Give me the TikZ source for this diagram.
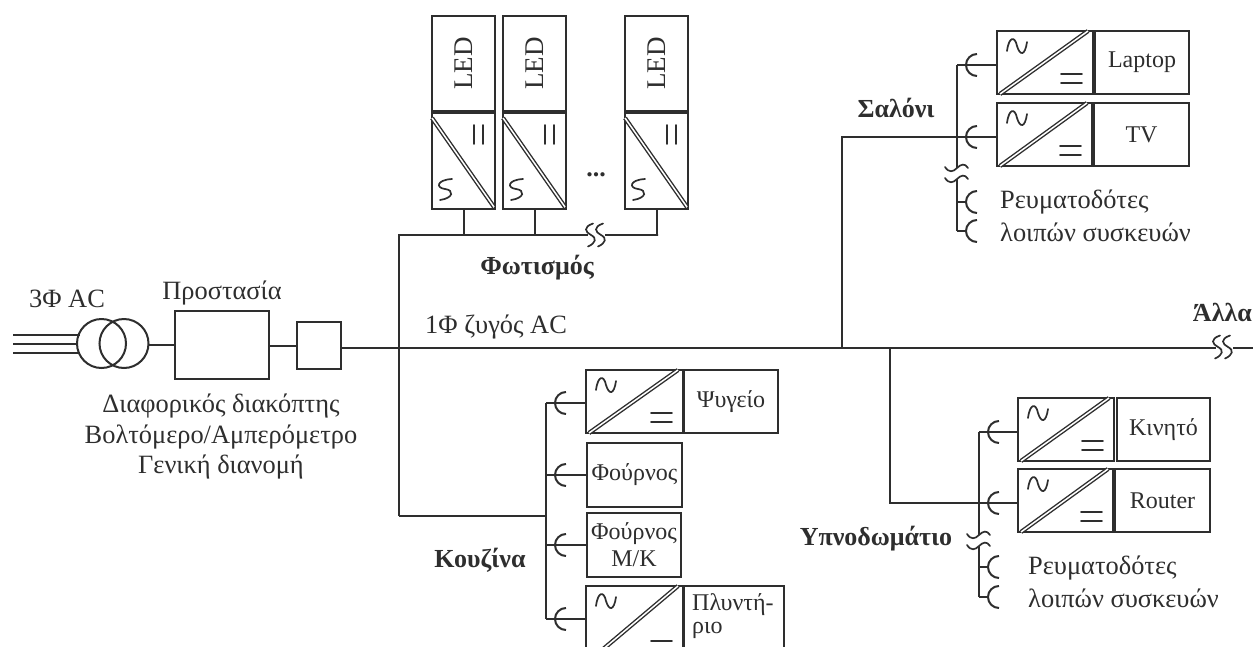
\documentclass[tikz,border=0pt]{standalone}
\usepackage{fontspec}
\setmainfont{Liberation Serif}
\usetikzlibrary{calc}
\definecolor{ink}{HTML}{2E2E2E}
\tikzset{
  x=1pt,y=-1pt,
  wire/.style={draw=ink,line width=2pt},
  box/.style={draw=ink,line width=2pt,rectangle,inner sep=0pt,outer sep=0pt,fill=white,text=ink,align=center,font=\fontsize{24}{27}\selectfont},
  diag/.style={draw=ink,line width=1.4pt,double=white,double distance=1.5pt},
  sym/.style={draw=ink,line width=1.7pt,line cap=round},
  lbl/.style={inner sep=0pt,text=ink,font=\fontsize{26.4}{30}\selectfont},
  blbl/.style={inner sep=0pt,text=ink,font=\fontsize{26}{30}\selectfont\bfseries},
  plain/.style={inner sep=0pt,text=ink,font=\fontsize{24}{27}\selectfont},
}
% horizontal converter: name, x1, y1, x2, y2
\newcommand{\hconv}[5]{%
  \node[box,anchor=north west,minimum width=#4-#2,minimum height=#5-#3] (#1) at (#2,#3) {};
  \draw[diag] ($(#1.south west)+(3,0)$) -- ($(#1.north east)+(-5,0)$);
  \begin{scope}[shift={(#1.north west)}]
    \draw[sym] (10,20) .. controls (12,5) and (18,5) .. (20,15) .. controls (23,25) and (28,25) .. (30,11);
  \end{scope}
  \begin{scope}[shift={(#1.south east)}]
    \draw[sym] (-32,-20) -- (-11,-20) (-32,-11) -- (-11,-11);
  \end{scope}
}
% vertical converter
\newcommand{\vconv}[5]{%
  \node[box,anchor=north west,minimum width=#4-#2,minimum height=#5-#3] (#1) at (#2,#3) {};
  \draw[diag] ($(#1.north west)+(0,5)$) -- ($(#1.south east)+(-1,-2)$);
  \begin{scope}[shift={(#1.south west)}]
    \draw[sym] (20,-30) .. controls (4,-29) and (4,-21) .. (13,-20) .. controls (22,-19) and (22,-11) .. (8,-9);
  \end{scope}
  \begin{scope}[shift={(#1.north east)}]
    \draw[sym] (-21,12) -- (-21,31) (-12,12) -- (-12,31);
  \end{scope}
}
\newcommand{\socket}[1]{\draw[wire] ($(#1)+(10,-11)$) arc[start angle=270,end angle=90,radius=11];}
\newcommand{\breakH}[2]{% two vertical S curves
  \begin{scope}[shift={(#1,#2)}]
    \foreach \d in {0,10}{
      \draw[sym] (\d+2,-11.5) .. controls (\d-8,-8) and (\d-6,-3) .. (\d,0) .. controls (\d+6,3) and (\d+5,8) .. (\d-3,11.5);
    }
  \end{scope}
}
\newcommand{\breakV}[2]{% two horizontal S curves
  \begin{scope}[shift={(#1,#2)}]
    \foreach \d in {0,11}{
      \draw[sym] (-12,\d-1) .. controls (-8,\d+5) and (-4,\d+4) .. (0,\d) .. controls (4,\d-4) and (8,\d-5) .. (11,\d);
    }
  \end{scope}
}
\begin{document}
\begin{tikzpicture}
\useasboundingbox (0,0) rectangle (1254,646);
% ---- source
\coordinate (p1s) at (13,335); \coordinate (p1e) at (80,335);
\coordinate (p2s) at (13,344); \coordinate (p2e) at (78,344);
\coordinate (p3s) at (13,353); \coordinate (p3e) at (80,353);
\draw[wire] (p1s)--(p1e) (p2s)--(p2e) (p3s)--(p3e);
\node[circle,draw=ink,line width=2pt,minimum size=49pt,inner sep=0pt] (t1) at (101.5,343.5) {};
\node[circle,draw=ink,line width=2pt,minimum size=49pt,inner sep=0pt] (t2) at (124,343.5) {};
\node[box,anchor=north west,minimum width=94pt,minimum height=68pt] (prot) at (175,311) {};
\node[box,anchor=north west,minimum width=44pt,minimum height=47pt] (sw) at (297,322) {};
\coordinate (ta) at (149,345);
\coordinate (pa) at (269,346);
\draw[wire] (ta) -- (prot.west|-ta);
\draw[wire] (pa) -- (sw.west|-pa);
% ---- bus
\coordinate (busL) at (341,348);
\coordinate (busA) at (399,348);
\coordinate (busB) at (842,348);
\coordinate (busC) at (890,348);
\coordinate (busR1) at (1216,348);
\coordinate (busR2) at (1233,348);
\coordinate (busEnd) at (1253,348);
\draw[wire] (busL) -- (busR1) (busR2) -- (busEnd);
\breakH{1218}{347}
% ---- lighting
\coordinate (lL) at (399,235);
\coordinate (lB1) at (588,235);
\coordinate (lB2) at (605,235);
\coordinate (lE) at (658,235);
\coordinate (kJ) at (399,516);
\foreach \n/\a/\b in {a/432/495,b/503/566,c/625/688}{
  \node[box,anchor=north west,minimum width=\b pt-\a pt,minimum height=95pt] (led\n) at (\a,16) {\rotatebox{90}{\fontsize{27}{30}\selectfont LED}};
  \vconv{cv\n}{\a}{113}{\b}{209}
}
\draw[wire] (kJ) -- (lL) -- (lB1);
\draw[wire] (lB2) -- (lE) -- (cvc.south|-lE) -- (cvc.south);
\draw[wire] (cva.south) -- (cva.south|-lL);
\draw[wire] (cvb.south) -- (cvb.south|-lL);
\breakH{591}{235}
\node[inner sep=0pt,text=ink,font=\fontsize{26}{30}\selectfont\bfseries] (dots) at (596,175) {...};
\node[blbl] (fot) at (537,268) {Φωτισμός};
% ---- saloni
\coordinate (sT) at (957,65); \coordinate (sM) at (957,137); \coordinate (sB1) at (957,168);
\coordinate (sB2) at (957,179); \coordinate (sR1) at (957,202); \coordinate (sR2) at (957,231);
\coordinate (sJ) at (842,137);
\draw[wire] (busB) -- (sJ) -- (sM);
\draw[wire] (sT) -- (sB1) (sB2) -- (sR2);
\breakV{957}{168}
\coordinate (sk1) at (967,65); \coordinate (sk2) at (967,137); \coordinate (sk3) at (967,202); \coordinate (sk4) at (967,231);
\draw[wire] (sR1) -- (sk3) (sR2) -- (sk4) (sM) -- (sk2) (sT) -- (sk1);
\hconv{cl}{997}{31}{1093}{94}
\hconv{ct}{997}{103}{1092}{166}
\node[box,anchor=north west,minimum width=94pt,minimum height=63pt] (lap) at (1095,31) {Laptop};
\node[box,anchor=north west,minimum width=95pt,minimum height=63pt] (tv) at (1094,103) {TV};
\draw[wire] (sk1) -- (cl.west|-sk1) (sk2) -- (ct.west|-sk2);
\foreach \s in {sk1,sk2,sk3,sk4}{\socket{\s}}
\node[lbl,anchor=west] (r1) at (1000,202) {Ρευματοδότες};
\node[lbl,anchor=west] (r2) at (1000,232) {λοιπών συσκευών};
\node[blbl] (sal) at (896,108) {Σαλόνι};
% ---- kitchen
\coordinate (kT) at (546,403); \coordinate (kM) at (546,516); \coordinate (kB) at (546,619);
\draw[wire] (kT) -- (kB);
\draw[wire] (kJ) -- (kM);
\coordinate (ks1) at (556,403); \coordinate (ks2) at (556,475); \coordinate (ks3) at (556,545); \coordinate (ks4) at (556,619);
\draw[wire] (kT) -- (ks1) (kT|-ks2) -- (ks2) (kT|-ks3) -- (ks3) (kB) -- (ks4);
\hconv{c1}{586}{370}{683}{433}
\node[box,anchor=north west,minimum width=94pt,minimum height=63pt] (psy) at (684,370) {Ψυγείο};
\node[box,anchor=north west,minimum width=95pt,minimum height=64pt] (fou) at (587,443) {Φούρνος};
\node[box,anchor=north west,minimum width=94pt,minimum height=64pt] (fmk) at (587,513) {Φούρνος\\Μ/Κ};
\begin{scope}
\clip (0,0) rectangle (1254,646);
\hconv{c4}{586}{586}{683}{661}
\node[box,anchor=north west,minimum width=100pt,minimum height=75pt] (pl) at (684,586) {};
\end{scope}
\node[plain,anchor=west] (pl1) at (692,605) {Πλυντή-};
\node[plain,anchor=west] (pl2) at (692,630) {ριο};
\draw[wire] (ks1) -- (c1.west|-ks1) (ks2) -- (fou.west|-ks2) (ks3) -- (fmk.west|-ks3) (ks4) -- (c4.west|-ks4);
\foreach \s in {ks1,ks2,ks3,ks4}{\socket{\s}}
\node[blbl] (kou) at (480,560) {Κουζίνα};
% ---- bedroom
\coordinate (bT) at (979,432); \coordinate (bM) at (979,503); \coordinate (bB1) at (979,535);
\coordinate (bB2) at (979,546); \coordinate (bR1) at (979,567); \coordinate (bR2) at (979,597);
\coordinate (bJ) at (890,503);
\draw[wire] (busC) -- (bJ) -- (bM);
\draw[wire] (bT) -- (bB1) (bB2) -- (bR2);
\breakV{979}{535}
\coordinate (bk1) at (989,432); \coordinate (bk2) at (989,503); \coordinate (bk3) at (989,567); \coordinate (bk4) at (989,597);
\draw[wire] (bT) -- (bk1) (bM) -- (bk2) (bR1) -- (bk3) (bR2) -- (bk4);
\hconv{cq}{1018}{398}{1114}{461}
\hconv{cr}{1018}{469}{1113}{532}
\node[box,anchor=north west,minimum width=93pt,minimum height=63pt] (kin) at (1117,398) {Κινητό};
\node[box,anchor=north west,minimum width=95pt,minimum height=63pt] (rou) at (1115,469) {Router};
\draw[wire] (bk1) -- (cq.west|-bk1) (bk2) -- (cr.west|-bk2);
\foreach \s in {bk1,bk2,bk3,bk4}{\socket{\s}}
\node[lbl,anchor=west] (q1) at (1028,568) {Ρευματοδότες};
\node[lbl,anchor=west] (q2) at (1028,598) {λοιπών συσκευών};
\node[blbl] (ypn) at (876,539) {Υπνοδωμάτιο};
% ---- other labels
\node[lbl] (ac3) at (67,299) {3Φ AC};
\node[lbl] (pro) at (222,293) {Προστασία};
\node[lbl,anchor=west] (ac1) at (425,327) {1Φ ζυγός AC};
\node[blbl,anchor=east] (all) at (1252,312) {Άλλα};
\node[lbl] (d1) at (221,406) {Διαφορικός διακόπτης};
\node[lbl] (d2) at (221,437) {Βολτόμερο/Αμπερόμετρο};
\node[lbl] (d3) at (221,467) {Γενική διανομή};
\end{tikzpicture}
\end{document}
